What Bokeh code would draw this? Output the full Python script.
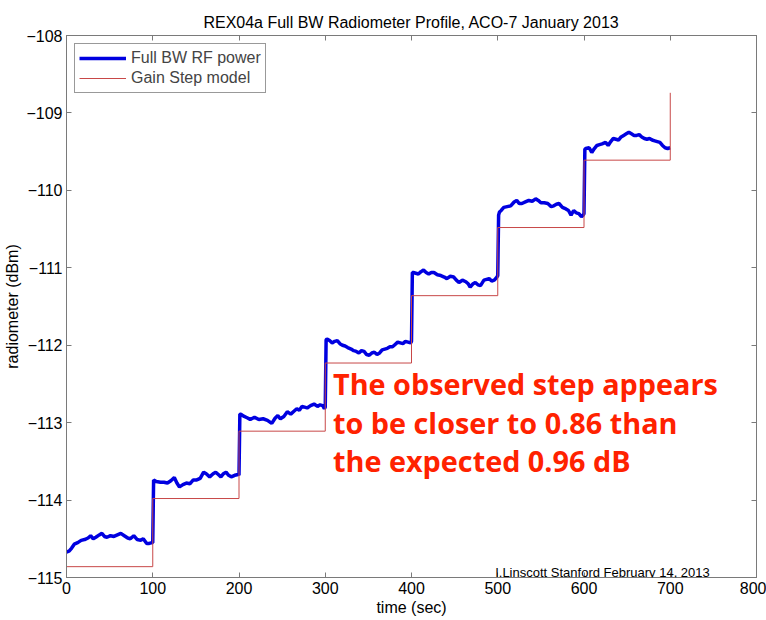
from bokeh.plotting import figure
from bokeh.models import Range1d, LinearAxis, FixedTicker, Label, CustomJSTickFormatter
from bokeh.embed import file_html
from bokeh.resources import INLINE

# ---- data ----
time_sec = [0, 3, 6, 9, 13, 17, 21, 25, 28, 31, 34, 38, 41, 44, 47, 51, 55, 59, 63, 67, 71, 74, 78, 82, 86, 89, 93, 96, 99, 100, 101,
            104, 109, 113, 117, 121, 125, 128, 131, 135, 139, 143, 147, 151, 155, 159, 162, 166, 170, 173, 176, 179, 182, 185, 188, 191, 195, 199, 200, 201,
            202, 206, 210, 213, 218, 223, 228, 233, 238, 242, 245, 248, 252, 256, 260, 264, 267, 270, 273, 276, 279, 283, 287, 291, 294, 297, 299, 300, 301,
            302, 305, 308, 311, 314, 317, 320, 323, 326, 330, 333, 336, 339, 342, 345, 348, 351, 354, 357, 360, 363, 366, 369, 372, 375, 378, 381, 384, 387, 390, 393, 396, 399, 400, 401,
            402, 405, 408, 411, 414, 417, 420, 423, 426, 430, 434, 438, 441, 445, 449, 452, 455, 459, 463, 466, 468, 471, 474, 477, 480, 484, 487, 490, 493, 496, 499, 500, 501,
            502, 504, 507, 511, 515, 519, 522, 525, 528, 532, 536, 540, 544, 547, 550, 554, 558, 562, 565, 568, 571, 575, 579, 582, 585, 588, 591, 594, 597, 599, 600, 601,
            602, 606, 609, 612, 615, 618, 621, 625, 628, 631, 634, 637, 640, 643, 646, 649, 652, 655, 658, 661, 664, 667, 670, 673, 676, 679, 682, 685, 688, 691, 694, 697, 700]
rf_power = [-114.67, -114.66, -114.62, -114.57, -114.55, -114.52, -114.51, -114.49, -114.46, -114.50, -114.48, -114.45, -114.43, -114.47, -114.48, -114.46, -114.47, -114.45, -114.43, -114.46, -114.49, -114.50, -114.46, -114.51, -114.52, -114.50, -114.56, -114.56, -114.55, -114.55, -113.74,
            -113.76, -113.77, -113.77, -113.78, -113.75, -113.71, -113.78, -113.83, -113.80, -113.78, -113.79, -113.74, -113.74, -113.72, -113.64, -113.66, -113.70, -113.66, -113.64, -113.67, -113.70, -113.66, -113.64, -113.68, -113.70, -113.68, -113.67, -113.68, -112.89,
            -112.89, -112.92, -112.94, -112.96, -112.93, -112.96, -112.95, -112.97, -113.01, -112.94, -112.91, -112.95, -112.92, -112.86, -112.89, -112.85, -112.82, -112.84, -112.79, -112.80, -112.81, -112.78, -112.76, -112.79, -112.77, -112.78, -112.82, -112.80, -111.93,
            -111.92, -111.94, -111.97, -111.95, -111.94, -111.98, -112.00, -112.01, -112.03, -112.05, -112.07, -112.08, -112.10, -112.07, -112.08, -112.12, -112.13, -112.10, -112.09, -112.12, -112.10, -112.06, -112.05, -112.04, -112.02, -112.02, -111.99, -111.96, -111.97, -111.98, -111.95, -111.96, -111.97, -111.95, -111.06,
            -111.06, -111.07, -111.08, -111.05, -111.03, -111.06, -111.08, -111.06, -111.06, -111.09, -111.10, -111.12, -111.14, -111.11, -111.12, -111.16, -111.19, -111.16, -111.18, -111.21, -111.25, -111.21, -111.19, -111.22, -111.23, -111.16, -111.15, -111.14, -111.17, -111.16, -111.12, -111.10, -110.32,
            -110.28, -110.26, -110.22, -110.21, -110.20, -110.15, -110.13, -110.17, -110.17, -110.15, -110.13, -110.14, -110.11, -110.13, -110.16, -110.16, -110.17, -110.21, -110.20, -110.18, -110.17, -110.22, -110.24, -110.26, -110.32, -110.26, -110.29, -110.30, -110.34, -110.32, -110.30, -109.47,
            -109.46, -109.45, -109.51, -109.46, -109.42, -109.41, -109.40, -109.38, -109.42, -109.37, -109.33, -109.34, -109.35, -109.31, -109.29, -109.27, -109.25, -109.27, -109.29, -109.29, -109.28, -109.31, -109.33, -109.34, -109.33, -109.35, -109.36, -109.37, -109.38, -109.42, -109.45, -109.46, -109.45]

step_times = [0, 100, 200, 300, 400, 500, 600, 700]
step_levels = [-114.86, -113.98, -113.11, -112.23, -111.36, -110.48, -109.61, -108.74]

x_ticks = [0, 100, 200, 300, 400, 500, 600, 700, 800]
y_ticks = [-115, -114, -113, -112, -111, -110, -109, -108]

FONT = "Liberation Sans"
AX = "#7a7a7a"

p = figure(width=766, height=620, output_backend="svg", toolbar_location=None,
           x_range=Range1d(0, 800), y_range=Range1d(-115, -108),
           min_border_left=66, min_border_right=10, min_border_top=35, min_border_bottom=43,
           title="REX04a Full BW Radiometer Profile, ACO-7 January 2013")
p.title.align = "center"
p.title.text_font = FONT
p.title.text_font_size = "16px"
p.title.text_font_style = "normal"
p.title.text_color = "black"
p.grid.visible = False
p.outline_line_color = AX
p.background_fill_color = "white"
p.border_fill_color = "white"

for ax in (p.xaxis[0], p.yaxis[0]):
    ax.axis_line_color = AX
    ax.major_tick_line_color = AX
    ax.major_tick_in = 5
    ax.major_tick_out = 0
    ax.minor_tick_line_color = None
    ax.major_label_text_font = FONT
    ax.major_label_text_font_size = "16px"
    ax.major_label_text_color = "black"
    ax.axis_label_text_font = FONT
    ax.axis_label_text_font_size = "16px"
    ax.axis_label_text_font_style = "normal"
    ax.axis_label_text_color = "black"
p.xaxis.ticker = FixedTicker(ticks=x_ticks)
p.yaxis.ticker = FixedTicker(ticks=y_ticks)
p.xaxis.axis_label = "time (sec)"
p.yaxis.axis_label = "radiometer (dBm)"
p.xaxis.major_label_standoff = 4
p.xaxis.axis_label_standoff = 2
p.yaxis.major_label_standoff = 4
p.yaxis.axis_label_standoff = 2

for loc, ticks in (("above", x_ticks), ("right", y_ticks)):
    a = LinearAxis(ticker=FixedTicker(ticks=ticks), formatter=CustomJSTickFormatter(code="return ''"))
    a.axis_line_color = AX
    a.major_tick_line_color = AX
    a.major_tick_in = 5
    a.major_tick_out = 0
    a.minor_tick_line_color = None
    a.major_label_text_font_size = "0px"
    a.major_label_standoff = 0
    p.add_layout(a, loc)

p.line(time_sec, rf_power, line_color="#0000e0", line_width=3.5, legend_label="Full BW RF power")
p.step(step_times, step_levels, mode="after", line_color="#c84848", line_width=1, legend_label="Gain Step model")

lg = p.legend[0]
lg.location = "top_left"
lg.margin = 8
lg.padding = 4
lg.spacing = 0
lg.glyph_width = 47
lg.glyph_height = 20
lg.label_height = 20
lg.label_standoff = 5
lg.label_text_font = FONT
lg.label_text_font_size = "16px"
lg.border_line_color = "#333333"
lg.border_line_width = 1
lg.background_fill_alpha = 1.0

note_lines = ["The observed step appears", "to be closer to 0.86 than", "the expected 0.96 dB"]
note_y = [-112.50, -112.995, -113.49]
for t, yy in zip(note_lines, note_y):
    p.add_layout(Label(x=309, y=yy, text=t, text_font="Open Sans", text_font_style="bold",
                       text_font_size="28.8px", text_color="#ff2200", text_baseline="alphabetic"))

p.add_layout(Label(x=497, y=-114.94, text="I.Linscott Stanford February 14, 2013", text_font=FONT,
                   text_font_size="13px", text_color="black", text_baseline="alphabetic"))

open("out.html", "w").write(file_html(p, INLINE))
